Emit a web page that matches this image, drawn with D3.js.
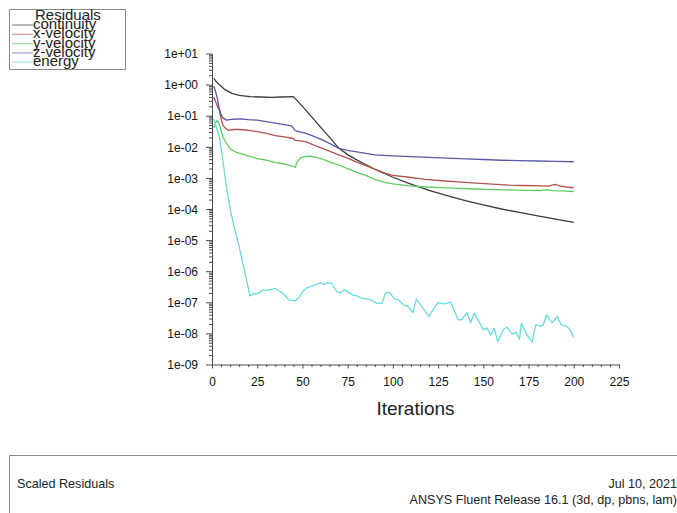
<!DOCTYPE html>
<html>
<head>
<meta charset="utf-8">
<script src="https://cdn.jsdelivr.net/npm/d3@7"></script>
<style>
  html, body { margin: 0; padding: 0; background: #fff; }
  svg { display: block; font-family: "Liberation Sans", Arial, sans-serif; }
</style>
</head>
<body>
<svg id="chart" width="677" height="513"></svg>
<script>
// ---------------- data ----------------
const seriesNames = ["continuity", "x-velocity", "y-velocity", "z-velocity", "energy"];
const seriesColors = ["#3c3c3c", "#b4524f", "#5ccc5c", "#5a5aa6", "#6adada"];

const xTicks = [0, 25, 50, 75, 100, 125, 150, 175, 200, 225];
const yTicks = [1e-9, 1e-8, 1e-7, 1e-6, 1e-5, 1e-4, 1e-3, 1e-2, 1e-1, 1e0, 1e1];
const yTickLabels = ["1e-09", "1e-08", "1e-07", "1e-06", "1e-05", "1e-04", "1e-03", "1e-02", "1e-01", "1e+00", "1e+01"];

const continuity = [[1,1.6],[2,1.3],[4,1.0],[7,0.7],[11,0.52],[15,0.45],[21,0.41],[27,0.40],[33,0.39],[38,0.40],[45,0.41],
  [50,0.2],[55,0.093],[60,0.043],[65,0.02],[70,9.1e-3],[75,5.6e-3],[80,3.8e-3],[85,2.7e-3],[90,1.9e-3],[100,1.05e-3],
  [110,6.3e-4],[120,4.0e-4],[130,2.7e-4],[140,1.86e-4],[150,1.35e-4],[160,1.0e-4],[170,7.8e-5],[180,6.0e-5],[190,4.7e-5],[200,3.7e-5]];

const xVelocity = [[1,0.4],[2,0.28],[3,0.2],[4,0.15],[5,0.08],[6,0.05],[7,0.042],[9,0.034],[12,0.036],[15,0.036],[20,0.034],
  [25,0.031],[30,0.027],[35,0.023],[40,0.021],[45,0.0185],[46,0.016],[49,0.0155],[52,0.0145],[56,0.0115],[61,0.0089],
  [66,0.0069],[70,0.0055],[75,0.0043],[80,0.0032],[85,0.0025],[90,0.0019],[96,0.0014],[100,0.0012],[109,1.05e-3],
  [118,9.0e-4],[127,8.1e-4],[136,7.4e-4],[146,6.8e-4],[155,6.3e-4],[164,5.9e-4],[173,5.7e-4],[182,5.5e-4],[186,5.4e-4],
  [188,5.9e-4],[190,6.2e-4],[192,5.5e-4],[196,5.1e-4],[200,4.8e-4]];

const yVelocity = [[1,0.04],[2,0.06],[3,0.07],[4,0.055],[5,0.033],[6,0.021],[8,0.013],[10,0.0087],[13,0.0068],[16,0.006],
  [20,0.0051],[25,0.0042],[30,0.0037],[35,0.0031],[40,0.0028],[45,0.0023],[46,0.0022],[47,0.0032],[49,0.0045],[52,0.0049],
  [54,0.005],[57,0.0047],[61,0.004],[66,0.0031],[70,0.0026],[75,0.002],[80,0.0015],[85,0.0012],[90,9.0e-4],[95,7.3e-4],
  [100,6.4e-4],[109,5.5e-4],[118,5.1e-4],[127,4.9e-4],[136,4.6e-4],[146,4.4e-4],[155,4.2e-4],[164,4.1e-4],[173,4.0e-4],
  [182,3.9e-4],[185,4.2e-4],[188,3.9e-4],[194,3.8e-4],[200,3.6e-4]];

const zVelocity = [[1,0.9],[2,0.6],[3,0.35],[4,0.17],[5,0.11],[6,0.085],[8,0.072],[12,0.077],[16,0.079],[20,0.075],
  [25,0.072],[30,0.065],[35,0.058],[40,0.052],[44,0.047],[46,0.033],[48,0.031],[52,0.027],[56,0.022],[61,0.0166],
  [66,0.012],[70,0.0089],[75,0.0077],[80,0.0069],[90,0.0055],[100,0.0051],[110,0.0048],[120,0.0046],[130,0.0043],
  [140,0.0041],[150,0.0039],[160,0.0037],[170,0.0036],[180,0.0035],[190,0.0034],[200,0.0033]];

const energy = [[1,0.08],[2,0.05],[3,0.032],[4,0.022],[6,3.8e-3],[8,5e-4],[10.5,7.2e-5],[13,1.8e-5],[15,6.2e-6],[18,1e-6],
  [21,1.6e-7],[23,1.9e-7],[25,1.9e-7],[27,2.2e-7],[28,2.5e-7],[30,2.4e-7],[32,2.5e-7],[35,2.8e-7],[37,2.4e-7],[39,1.95e-7],
  [41,1.5e-7],[43,1.17e-7],[46,1.12e-7],[48,1.4e-7],[50,2.2e-7],[52,2.8e-7],[55,3.3e-7],[58,3.8e-7],[60,4.3e-7],[62,3.8e-7],
  [64,4.2e-7],[66,4.1e-7],[69,2.2e-7],[71,2.0e-7],[73,2.6e-7],[75,2.2e-7],[78,1.7e-7],[80,1.6e-7],[83,1.35e-7],[86,1.26e-7],
  [88,1.17e-7],[91,9.3e-8],[94,9.5e-8],[96,2.0e-7],[98,2.1e-7],[101,1.26e-7],[103,1.2e-7],[106,8.1e-8],[108,7.6e-8],
  [111,4.7e-8],[113,1.26e-7],[116,7.2e-8],[120,3.5e-8],[122,5.6e-8],[125,9.8e-8],[128,8.9e-8],[132,1.0e-7],[136,2.8e-8],
  [138,2.75e-8],[141,4.7e-8],[143,2.2e-8],[145,4.5e-8],[147,2.8e-8],[150,1.3e-8],[152,1.5e-8],[154,8.9e-9],[156,1.45e-8],
  [158,5.4e-9],[161,1.3e-8],[163,1.6e-8],[166,9.5e-9],[168,1.1e-8],[170,6.5e-9],[171,2.1e-8],[174,8.9e-9],[177,5.4e-9],
  [179,1.9e-8],[181,1.7e-8],[183,1.8e-8],[185,3.9e-8],[188,2.2e-8],[191,3.5e-8],[193,1.9e-8],[196,1.7e-8],[198,1.3e-8],
  [200,7.4e-9]];

const seriesData = [continuity, xVelocity, yVelocity, zVelocity, energy];

const legendTitle = "Residuals";
const xTitle = "Iterations";
const footerLeft = "Scaled Residuals";
const footerDate = "Jul 10, 2021";
const footerRelease = "ANSYS Fluent Release 16.1 (3d, dp, pbns, lam)";

// ---------------- drawing ----------------
const svg = d3.select("#chart");
const x = d3.scaleLinear().domain([0, 225]).range([212, 619]);
const y = d3.scaleLog().domain([1e-9, 1e1]).range([364.5, 53.5]);

const axisColor = "#4a4a4a";

// minor ticks
const xMinor = d3.range(0, 226, 5).filter(v => v % 25 !== 0);
const yMinor = [];
for (let e = -9; e < 1; e++) for (let m = 2; m <= 9; m++) yMinor.push(m * Math.pow(10, e));

const gx = svg.append("g").attr("transform", "translate(0,364.5)")
  .call(d3.axisBottom(x).tickValues(xTicks).tickSizeInner(4).tickSizeOuter(0).tickFormat(d => d));
const gxm = svg.append("g").attr("transform", "translate(0,364.5)")
  .call(d3.axisBottom(x).tickValues(xMinor).tickSizeInner(2.5).tickSizeOuter(0).tickFormat(""));
gxm.select(".domain").remove();

const gy = svg.append("g").attr("transform", "translate(212,0)")
  .call(d3.axisLeft(y).tickValues(yTicks).tickSizeInner(6).tickSizeOuter(0).tickFormat((d, i) => yTickLabels[i]));
const gym = svg.append("g").attr("transform", "translate(212,0)")
  .call(d3.axisLeft(y).tickValues(yMinor).tickSizeInner(3).tickSizeOuter(0).tickFormat(""));
gym.select(".domain").remove();

[gx, gxm, gy, gym].forEach(g => {
  g.selectAll("path,line").attr("stroke", axisColor).attr("stroke-width", 1);
});
gx.selectAll("text").attr("font-size", 12).attr("fill", "#111").attr("y", 17).attr("dy", "0.35em")
  .attr("font-family", "Liberation Sans, Arial, sans-serif");
gy.selectAll("text").attr("font-size", 12).attr("fill", "#111").attr("x", -14).attr("dy", "0.35em")
  .attr("font-family", "Liberation Sans, Arial, sans-serif");

svg.append("text").attr("x", (x(0) + x(225)) / 2).attr("y", 415).attr("text-anchor", "middle")
  .attr("font-size", 19).attr("fill", "#222").text(xTitle);

// lines
const line = d3.line().x(d => x(d[0])).y(d => y(d[1]));
seriesData.forEach((s, i) => {
  svg.append("path").datum(s).attr("d", line).attr("fill", "none")
    .attr("stroke", seriesColors[i]).attr("stroke-width", 1.3).attr("stroke-linejoin", "round");
});

// legend
svg.append("rect").attr("x", 9.5).attr("y", 9.5).attr("width", 116).attr("height", 60)
  .attr("fill", "#fff").attr("stroke", "#8a8a8a").attr("stroke-width", 1);
svg.append("text").attr("x", 35).attr("y", 19.5).attr("font-size", 15).attr("fill", "#222").text(legendTitle);
seriesNames.forEach((n, i) => {
  const base = 29 + i * 9.3;
  svg.append("line").attr("x1", 12).attr("x2", 33).attr("y1", base - 4).attr("y2", base - 4)
    .attr("stroke", seriesColors[i]).attr("stroke-opacity", 0.6).attr("stroke-width", 1.2);
  svg.append("text").attr("x", 33).attr("y", base).attr("font-size", 15).attr("fill", "#222").text(n);
});

// footer
svg.append("path").attr("d", "M9.5,520 V455.5 H690").attr("fill", "none").attr("stroke", "#8a8a8a").attr("stroke-width", 1);
svg.append("text").attr("x", 17).attr("y", 488).attr("font-size", 12.6).attr("fill", "#222").text(footerLeft);
svg.append("text").attr("x", 677).attr("y", 488).attr("text-anchor", "end").attr("font-size", 12.6).attr("fill", "#222").text(footerDate);
svg.append("text").attr("x", 677).attr("y", 504).attr("text-anchor", "end").attr("font-size", 12.6).attr("fill", "#222").text(footerRelease);
</script>
</body>
</html>
